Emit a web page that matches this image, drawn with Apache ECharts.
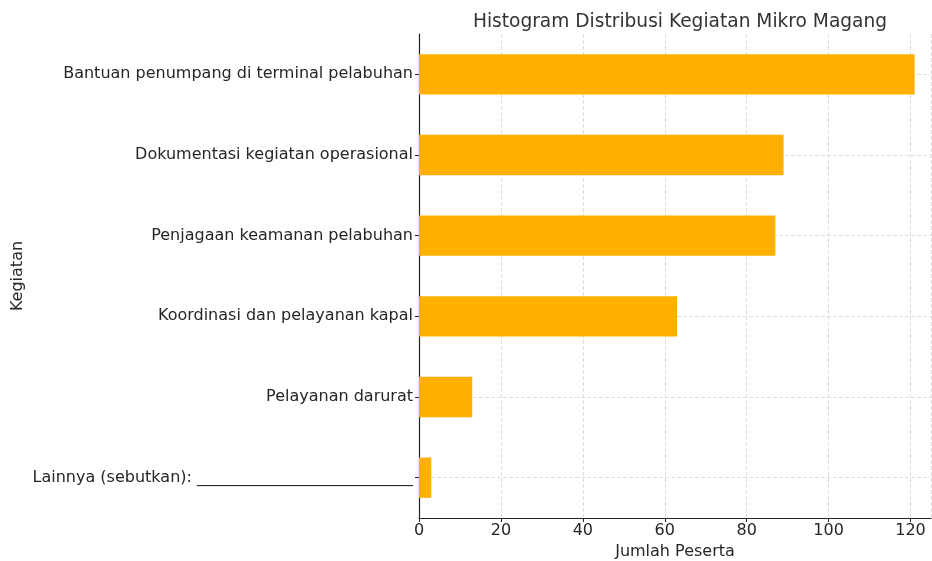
<!DOCTYPE html>
<html><head><meta charset="utf-8">
<script src="https://cdn.jsdelivr.net/npm/echarts@6/dist/echarts.min.js"></script>
<style>html,body{margin:0;padding:0;background:#fff}#c{width:932px;height:561px}</style>
</head><body><div id="c"></div>
<script>
const categories = [
  "Lainnya (sebutkan): ___________________________",
  "Pelayanan darurat",
  "Koordinasi dan pelayanan kapal",
  "Penjagaan keamanan pelabuhan",
  "Dokumentasi kegiatan operasional",
  "Bantuan penumpang di terminal pelabuhan"
];
const values = [3, 13, 63, 87, 89, 121];
const xTicks = [0, 20, 40, 60, 80, 100, 120];

const font = "DejaVu Sans";
const chart = echarts.init(document.getElementById('c'));
chart.setOption({
  animation: false,
  textStyle: {fontFamily: font},
  title: {text: "Histogram Distribusi Kegiatan Mikro Magang", left: 675, top: 8, textAlign: 'center',
    textStyle: {fontFamily: font, fontSize: 18.6, fontWeight: 'normal', color: '#333'}},
  grid: {left: 419, right: 1, top: 34, bottom: 43, containLabel: false, outerBoundsMode: 'none'},
  xAxis: {
    type: 'value', min: 0, max: 125, interval: 20,
    name: "Jumlah Peserta", nameLocation: 'middle', nameGap: 26,
    nameTextStyle: {fontFamily: font, fontSize: 16, color: '#262626'},
    axisLine: {show: true, lineStyle: {color: '#222', width: 1.2}},
    axisTick: {show: true, inside: false, length: 4, lineStyle: {color: '#222'}},
    axisLabel: {fontFamily: font, fontSize: 16, color: '#262626', margin: 5, showMaxLabel: false,
      formatter: v => xTicks.includes(v) ? String(v) : ''},
    splitLine: {show: true, lineStyle: {color: '#d6d6d6', type: [4, 2], width: 0.8}}
  },
  yAxis: {
    type: 'category', data: categories,
    name: "Kegiatan", nameLocation: 'middle', nameGap: 393, nameRotate: 90, nameMoveOverlap: false,
    nameTextStyle: {fontFamily: font, fontSize: 16, color: '#262626'},
    axisLine: {show: true, lineStyle: {color: '#222', width: 1.2}},
    axisTick: {show: true, alignWithLabel: true, length: 4, lineStyle: {color: '#222'}},
    axisLabel: {fontFamily: font, fontSize: 16, color: '#262626', margin: 6},
    splitLine: {show: true, alignWithLabel: true, lineStyle: {color: '#d6d6d6', type: [4, 2], width: 0.8}}
  },
  series: [{
    type: 'bar', data: values, barWidth: '50%',
    itemStyle: {color: '#FFB000'}
  }]
});
</script></body></html>
